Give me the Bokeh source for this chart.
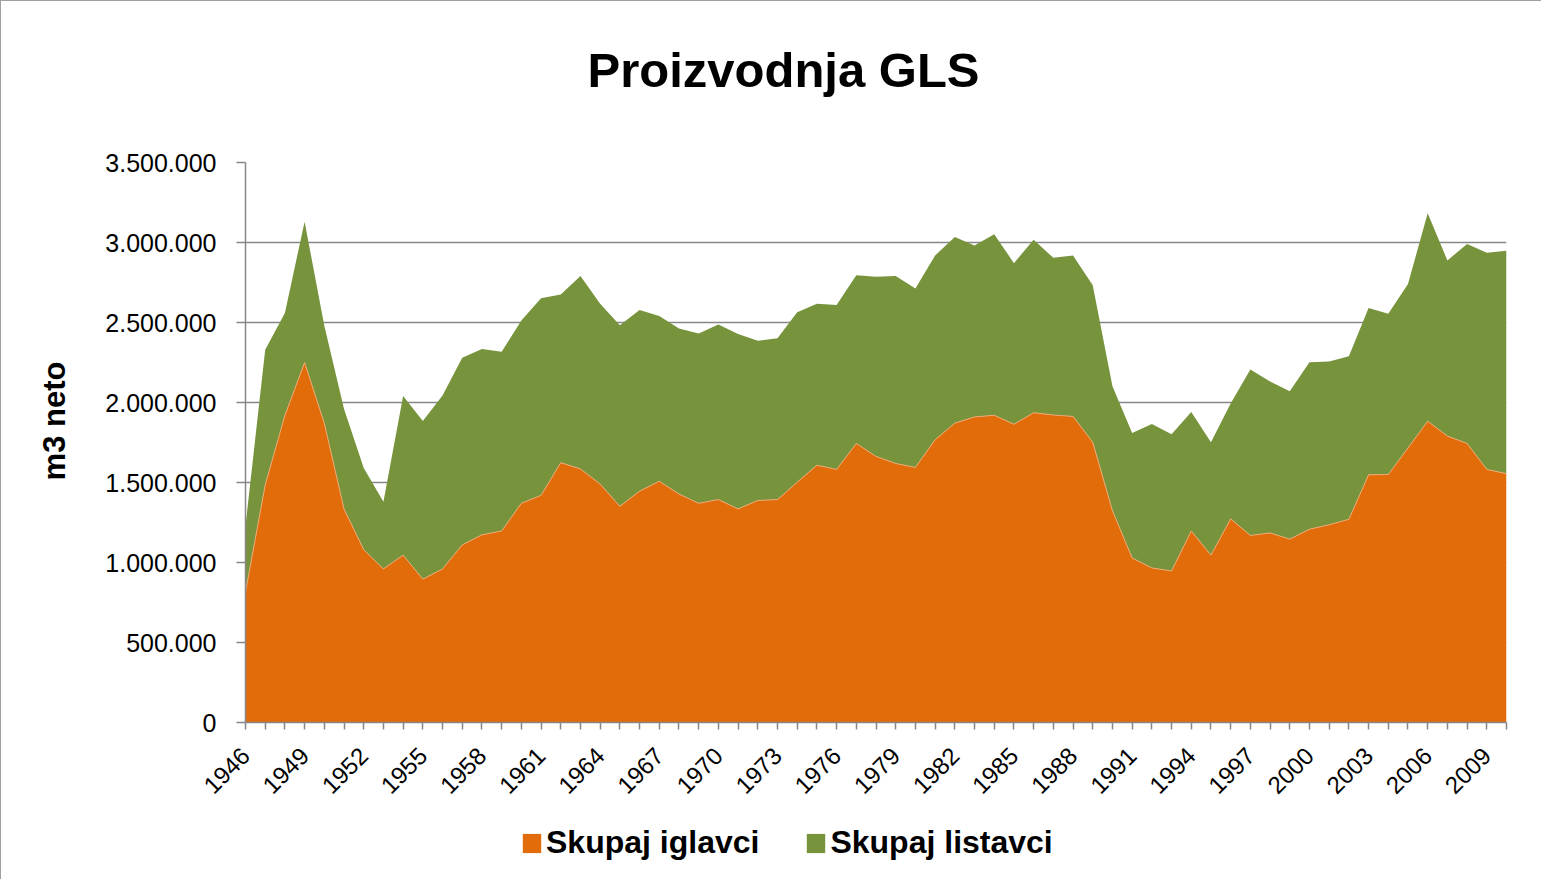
from math import pi
from bokeh.plotting import figure
from bokeh.layouts import column
from bokeh.models import (ColumnDataSource, FixedTicker, Legend, LegendItem, Title)
from bokeh.embed import file_html
from bokeh.resources import INLINE

# ---------------- data ----------------
years = list(range(1946, 2011))

iglavci = [
    815000, 1485000, 1920000, 2250000, 1870000, 1335000, 1080000, 960000, 1046000, 896000,
    960000, 1110000, 1173000, 1197000, 1370000, 1420000, 1624000, 1585000, 1490000, 1351000,
    1446000, 1508000, 1428000, 1370000, 1393000, 1335000, 1388000, 1393000, 1502000, 1608000,
    1582000, 1744000, 1663000, 1619000, 1594000, 1767000, 1871000, 1910000, 1920000, 1864000,
    1936000, 1922000, 1913000, 1751000, 1324000, 1028000, 966000, 947000, 1197000, 1046000,
    1273000, 1169000, 1185000, 1146000, 1208000, 1236000, 1270000, 1548000, 1550000, 1716000,
    1883000, 1790000, 1744000, 1582000, 1555000,
]

listavci = [
    415000, 845000, 640000, 880000, 610000, 625000, 510000, 420000, 994000, 989000,
    1084000, 1170000, 1162000, 1120000, 1143000, 1232000, 1051000, 1205000, 1127000, 1132000,
    1132000, 1033000, 1034000, 1062000, 1095000, 1093000, 998000, 1009000, 1062000, 1009000,
    1028000, 1051000, 1123000, 1171000, 1118000, 1151000, 1164000, 1072000, 1132000, 1007000,
    1081000, 982000, 1005000, 982000, 778000, 781000, 900000, 855000, 743000, 705000,
    721000, 1037000, 947000, 924000, 1044000, 1021000, 1019000, 1042000, 1005000, 1024000,
    1300000, 1098000, 1247000, 1354000, 1393000,
]

series_names = ["Skupaj iglavci", "Skupaj listavci"]
series_colors = ["#E36C0A", "#77933C"]

y_ticks = [0, 500000, 1000000, 1500000, 2000000, 2500000, 3000000, 3500000]
y_tick_labels = ["0", "500.000", "1.000.000", "1.500.000", "2.000.000",
                 "2.500.000", "3.000.000", "3.500.000"]
x_label_years = years[::3]

title_text = "Proizvodnja GLS"
y_title = "m3 neto"

# ---------------- main figure ----------------
FONT = "Liberation Sans"
GREY = "#878787"

source = ColumnDataSource(dict(year=years, iglavci=iglavci, listavci=listavci))

p = figure(width=1540, height=803, output_backend="svg", toolbar_location=None,
           x_range=(years[0], years[-1]), y_range=(0, y_ticks[-1]),
           min_border_left=244, min_border_right=35, min_border_top=161,
           min_border_bottom=82)
p.outline_line_color = None
p.background_fill_color = "white"
p.border_fill_color = "white"

rs = p.varea_stack(["iglavci", "listavci"], x="year", color=series_colors, source=source)
p.line(x="year", y="iglavci", source=source, line_color="#EDA873", line_width=1)

# title
p.title.text = title_text
p.title.align = "left"
p.title.offset = 342
p.title.text_font = FONT
p.title.text_font_size = "49px"
p.title.text_font_style = "bold"
p.title.text_color = "black"
p.title.vertical_align = "bottom"
p.title.standoff = 10
# spacer between title and plot area
p.add_layout(Title(text=" ", text_font_size="1px", standoff=58), "above")

# grid
p.xgrid.visible = False
p.ygrid.ticker = FixedTicker(ticks=y_ticks)
p.ygrid.grid_line_color = GREY
p.ygrid.grid_line_width = 1.5
p.ygrid.level = "underlay"

# y axis
ya = p.yaxis[0]
ya.ticker = FixedTicker(ticks=y_ticks)
ya.major_label_overrides = {t: l for t, l in zip(y_ticks, y_tick_labels)}
ya.major_label_text_font = FONT
ya.major_label_text_font_size = "25px"
ya.major_label_text_color = "black"
ya.major_label_standoff = 20
ya.axis_line_color = GREY
ya.axis_line_width = 1.5
ya.major_tick_line_color = GREY
ya.major_tick_line_width = 1.5
ya.major_tick_out = 9
ya.major_tick_in = 0
ya.minor_tick_line_color = None
ya.axis_label = "\u00a0" * 5 + y_title
ya.axis_label_text_font = FONT
ya.axis_label_text_font_size = "31px"
ya.axis_label_text_font_style = "bold"
ya.axis_label_text_color = "black"
ya.axis_label_standoff = 30

# x axis
xa = p.xaxis[0]
xa.ticker = FixedTicker(ticks=years)
xa.major_label_overrides = {y: (str(y) if y in x_label_years else "") for y in years}
xa.major_label_orientation = pi / 4
xa.major_label_text_font = FONT
xa.major_label_text_font_size = "24px"
xa.major_label_text_color = "black"
xa.major_label_standoff = 22
xa.axis_line_color = GREY
xa.axis_line_width = 1.5
xa.major_tick_line_color = GREY
xa.major_tick_line_width = 1.5
xa.major_tick_out = 7
xa.major_tick_in = 0
xa.minor_tick_line_color = None

# ---------------- legend strip ----------------
pl = figure(width=1540, height=75, output_backend="svg", toolbar_location=None,
            x_range=(0, 1), y_range=(0, 1), min_border=0)
pl.axis.visible = False
pl.grid.visible = False
pl.outline_line_color = None
pl.border_fill_color = "white"
lr = [pl.varea(x=[2, 3], y1=[2, 2], y2=[3, 3], fill_color=c) for c in series_colors]

legend = Legend(items=[LegendItem(label=n, renderers=[r]) for n, r in zip(series_names, lr)],
                orientation="horizontal", location=(275, 18),
                glyph_width=23, glyph_height=24, label_standoff=3, spacing=45,
                padding=0, margin=0, border_line_color=None, background_fill_alpha=0,
                label_text_font=FONT, label_text_font_size="32px",
                label_text_font_style="bold", label_text_color="black")
pl.add_layout(legend, "center")

layout = column(p, pl, spacing=0,
                styles={"border-top": "1px solid #a0a0a0", "border-left": "1px solid #a0a0a0"})
open("out.html", "w").write(file_html(layout, INLINE))
